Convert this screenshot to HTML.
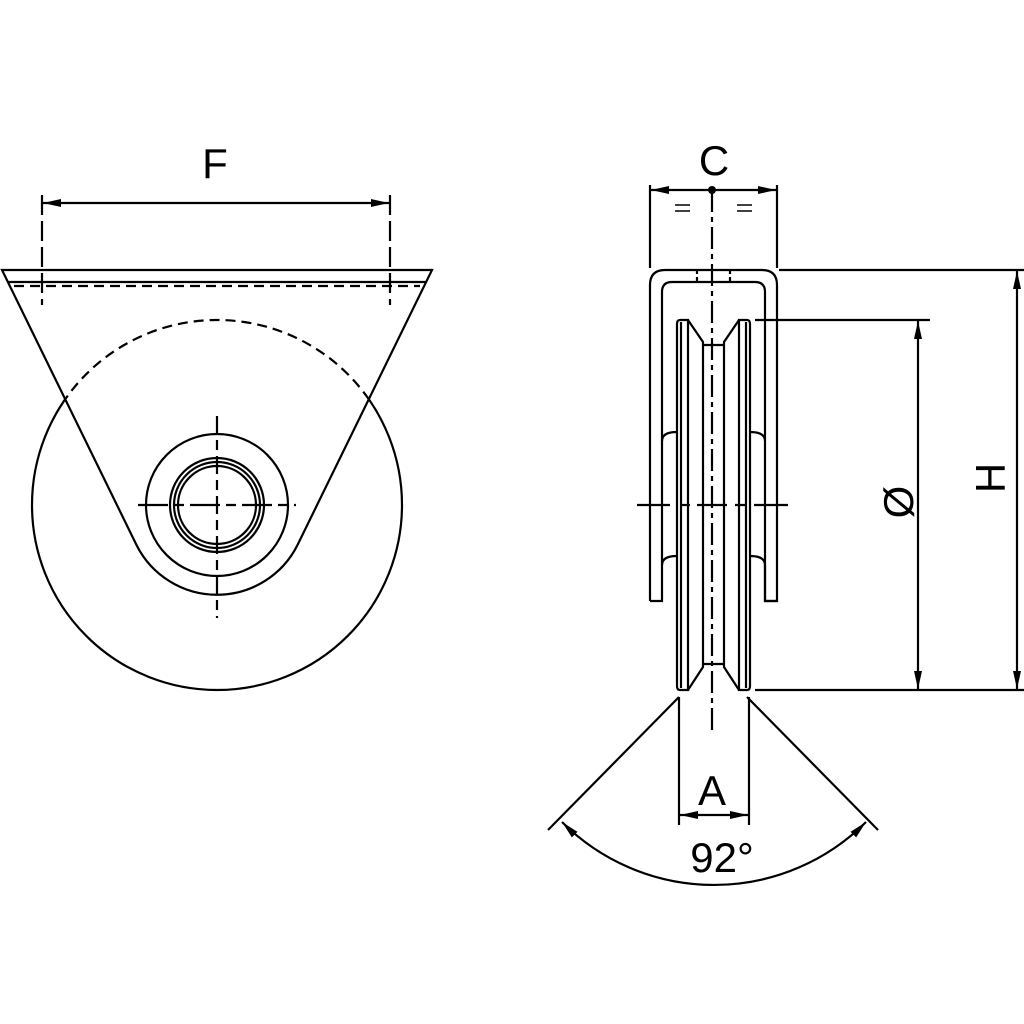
<!DOCTYPE html>
<html><head><meta charset="utf-8"><style>html,body{margin:0;padding:0;background:#fff}svg{display:block}text{font-family:"Liberation Sans",sans-serif;fill:#000}</style></head><body>
<svg width="1024" height="1024" viewBox="0 0 1024 1024" xmlns="http://www.w3.org/2000/svg">
<defs>
<marker id="ar" viewBox="0 0 18 10" refX="18" refY="5" markerWidth="18" markerHeight="10" markerUnits="userSpaceOnUse" orient="auto-start-reverse"><path d="M0,1 L18,5 L0,9 Z" fill="#000" stroke="none"/></marker>
<clipPath id="tri"><path d="M2,270 L432,270 L297.5,545 A90 90 0 0 1 136.5,545 Z"/></clipPath>
</defs>
<g fill="none" stroke="#000" stroke-width="2.2">
<circle cx="217" cy="505" r="185"/>
<path d="M2,270 L432,270 L297.5,545 A90 90 0 0 1 136.5,545 Z" fill="#fff"/>
<circle cx="217" cy="505" r="185" stroke-dasharray="10,6" clip-path="url(#tri)"/>
<line x1="8" y1="282" x2="426" y2="282"/>
<line x1="14" y1="286" x2="420" y2="286" stroke-dasharray="10,6"/>
<circle cx="217" cy="505" r="71"/>
<circle cx="217" cy="505" r="47"/>
<circle cx="217" cy="505" r="43"/>
<circle cx="217" cy="505" r="39"/>
<line x1="138" y1="505" x2="296" y2="505" stroke-dasharray="30,6,10,6"/>
<line x1="217" y1="416" x2="217" y2="618" stroke-dasharray="18,6,10,6"/>
<line x1="42" y1="195" x2="42" y2="305" stroke-dasharray="20,6"/>
<line x1="390" y1="195" x2="390" y2="305" stroke-dasharray="20,6"/>
<line x1="43" y1="203" x2="389" y2="203" marker-start="url(#ar)" marker-end="url(#ar)"/>
<path d="M650,601 L650,285 Q650,270 665,270 L762,270 Q777,270 777,285 L777,601 L765,601 L765,441 Q765,432 750,432"/>
<path d="M650,601 L662,601 L662,565 Q662,556 677,556"/>
<path d="M777,601 L765,601 L765,565 Q765,556 750,556"/>
<path d="M662,565 L662,441 M662,441 Q662,432 677,432"/>
<path d="M662,441 L662,292 Q662,282 672,282 L755,282 Q765,282 765,292 L765,441"/>
<line x1="697" y1="270" x2="697" y2="282" stroke-dasharray="4,3"/>
<line x1="730" y1="270" x2="730" y2="282" stroke-dasharray="4,3"/>
<path d="M680,320 L688,320 L688,690 L680,690 Q677,690 677,686 L677,324 Q677,320 680,320 Z" fill="#fff"/>
<line x1="681" y1="322" x2="681" y2="688"/>
<path d="M747,320 L739,320 L739,690 L747,690 Q750,690 750,686 L750,324 Q750,320 747,320 Z" fill="#fff"/>
<line x1="746" y1="322" x2="746" y2="688"/>
<path d="M688,320 L703,342 L703,667 L688,690"/>
<path d="M739,320 L724,342 L724,667 L739,690"/>
<line x1="703" y1="345" x2="724" y2="345"/>
<line x1="703" y1="664" x2="724" y2="664"/>
<line x1="712" y1="190" x2="712" y2="730" stroke-dasharray="22,5,5,5"/>
<path d="M637,505 L670,505 M680,505 L690,505 M697,505 L727,505 M735,505 L745,505 M754,505 L788,505"/>
<line x1="650" y1="185" x2="650" y2="268"/>
<line x1="777" y1="185" x2="777" y2="268"/>
<line x1="651" y1="190" x2="776" y2="190" marker-start="url(#ar)" marker-end="url(#ar)"/>
<path d="M675,205 L690,205 M675,211 L690,211 M737,205 L752,205 M737,211 L752,211" stroke-width="1.5"/>
<line x1="755" y1="320" x2="930" y2="320"/>
<line x1="755" y1="690" x2="1024" y2="690"/>
<line x1="779" y1="270" x2="1024" y2="270"/>
<line x1="918" y1="321" x2="918" y2="689" marker-start="url(#ar)" marker-end="url(#ar)"/>
<line x1="1017" y1="271" x2="1017" y2="689" marker-start="url(#ar)" marker-end="url(#ar)"/>
<line x1="679" y1="697" x2="679" y2="825"/>
<line x1="749" y1="697" x2="749" y2="825"/>
<line x1="680" y1="815" x2="748" y2="815" marker-start="url(#ar)" marker-end="url(#ar)"/>
<line x1="679" y1="697" x2="548" y2="830"/>
<line x1="747" y1="697" x2="878" y2="830"/>
<path d="M562,822 A215 215 0 0 0 866,822" marker-start="url(#ar)" marker-end="url(#ar)"/>
</g>
<circle cx="712" cy="190" r="4" fill="#000"/>
<text x="215" y="178" font-size="42" text-anchor="middle">F</text>
<text x="714" y="175" font-size="42" text-anchor="middle">C</text>
<text x="712" y="805" font-size="42" text-anchor="middle">A</text>
<text x="722" y="872" font-size="42" text-anchor="middle">92°</text>
<text transform="translate(913,502) rotate(-90)" font-size="42" text-anchor="middle">Ø</text>
<text transform="translate(1005,478) rotate(-90)" font-size="42" text-anchor="middle">H</text>
</svg>
</body></html>
